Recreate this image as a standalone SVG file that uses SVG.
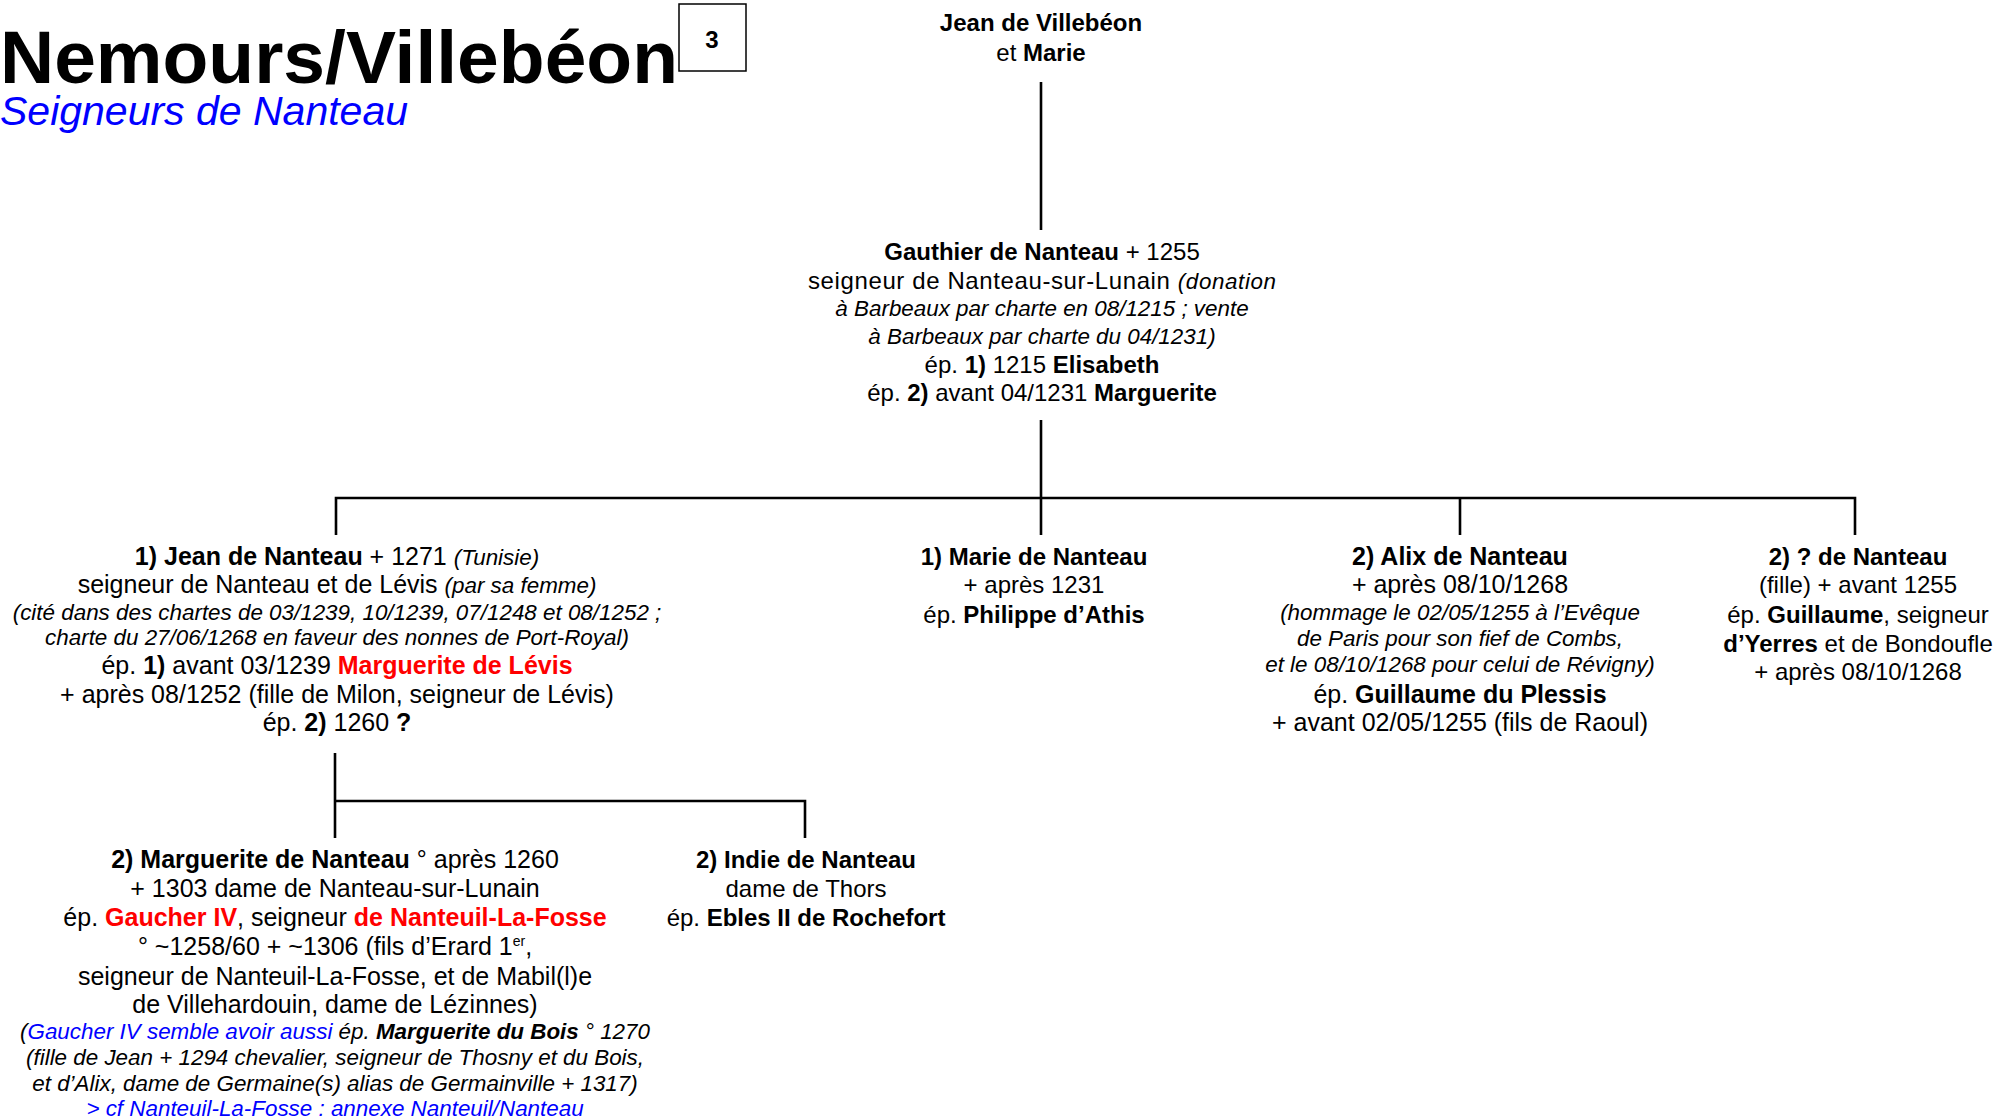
<svg xmlns="http://www.w3.org/2000/svg" width="1997" height="1119" viewBox="0 0 1997 1119">
<style>
text{font-family:"Liberation Sans",Arial,sans-serif;font-size:24px;fill:#000;text-anchor:middle}
.big text{font-size:25px}
.b{font-weight:bold}
text.i,tspan.i,.big text.i{font-style:italic;font-size:22.4px}
.r{fill:#FF0000;font-weight:bold}
.bl{fill:#0000FF}
.ln{stroke:#000;stroke-width:2.6;fill:none}
</style>
<rect width="1997" height="1119" fill="#fff"/>
<g id="title">
<text x="0" y="83" style="text-anchor:start;font-size:75px;font-weight:bold">Nemours/Villebéon</text>
<text x="0" y="125" style="text-anchor:start;font-size:41px;font-style:italic;fill:#0000FF">Seigneurs de Nanteau</text>
<rect x="679" y="4" width="67" height="67" fill="#fff" stroke="#000" stroke-width="1.5"/>
<text x="712" y="48" class="b">3</text>
</g>
<g id="connectors">
<path class="ln" d="M1041 82V230"/>
<path class="ln" d="M1041 420V535"/>
<path class="ln" d="M336 535V498H1855V535"/>
<path class="ln" d="M1460 498V535"/>
<path class="ln" d="M335 753V838"/>
<path class="ln" d="M335 801H805V838"/>
</g>
<g id="n-jean-villebeon">
<text x="1041" y="31" class="b">Jean de Villebéon</text>
<text x="1041" y="61">et <tspan class="b">Marie</tspan></text>
</g>
<g id="n-gauthier">
<text x="1042" y="260"><tspan class="b">Gauthier de Nanteau</tspan> + 1255</text>
<text x="808" y="289" style="text-anchor:start" textLength="468" lengthAdjust="spacing">seigneur de Nanteau-sur-Lunain <tspan class="i">(donation</tspan></text>
<text x="1042" y="316" class="i">à Barbeaux par charte en 08/1215 ; vente</text>
<text x="1042" y="344" class="i">à Barbeaux par charte du 04/1231)</text>
<text x="1042" y="373">ép. <tspan class="b">1)</tspan> 1215 <tspan class="b">Elisabeth</tspan></text>
<text x="1042" y="401">ép. <tspan class="b">2)</tspan> avant 04/1231 <tspan class="b">Marguerite</tspan></text>
</g>
<g id="n-jean-nanteau" class="big">
<text x="337" y="565"><tspan class="b">1) Jean de Nanteau</tspan> + 1271 <tspan class="i">(Tunisie)</tspan></text>
<text x="337" y="593">seigneur de Nanteau et de Lévis <tspan class="i">(par sa femme)</tspan></text>
<text x="337" y="620" class="i">(cité dans des chartes de 03/1239, 10/1239, 07/1248 et  08/1252 ;</text>
<text x="337" y="645" class="i">charte du 27/06/1268 en faveur des nonnes de Port-Royal)</text>
<text x="337" y="674">ép. <tspan class="b">1)</tspan> avant 03/1239 <tspan class="r">Marguerite de Lévis</tspan></text>
<text x="337" y="703">+ après 08/1252 (fille de Milon, seigneur de Lévis)</text>
<text x="337" y="731">ép. <tspan class="b">2)</tspan> 1260 <tspan class="b">?</tspan></text>
</g>
<g id="n-marie">
<text x="1034" y="565" class="b">1) Marie de Nanteau</text>
<text x="1034" y="593">+ après 1231</text>
<text x="1034" y="623">ép. <tspan class="b">Philippe d’Athis</tspan></text>
</g>
<g id="n-alix" class="big">
<text x="1460" y="565" class="b">2) Alix de Nanteau</text>
<text x="1460" y="593">+ après 08/10/1268</text>
<text x="1460" y="620" class="i">(hommage le 02/05/1255 à l’Evêque</text>
<text x="1460" y="646" class="i">de Paris pour son fief de Combs,</text>
<text x="1460" y="672" class="i">et le 08/10/1268 pour celui de Révigny)</text>
<text x="1460" y="703">ép. <tspan class="b">Guillaume du Plessis</tspan></text>
<text x="1460" y="731">+ avant 02/05/1255 (fils de Raoul)</text>
</g>
<g id="n-fille">
<text x="1858" y="565" class="b">2) ? de Nanteau</text>
<text x="1858" y="593">(fille) + avant 1255</text>
<text x="1858" y="623">ép. <tspan class="b">Guillaume</tspan>, seigneur</text>
<text x="1858" y="652"><tspan class="b">d’Yerres</tspan> et de Bondoufle</text>
<text x="1858" y="680">+ après 08/10/1268</text>
</g>
<g id="n-marguerite" class="big">
<text x="335" y="868"><tspan class="b">2) Marguerite de Nanteau</tspan> ° après 1260</text>
<text x="335" y="897">+ 1303 dame de Nanteau-sur-Lunain</text>
<text x="335" y="926">ép. <tspan class="r">Gaucher IV</tspan>, seigneur <tspan class="r">de Nanteuil-La-Fosse</tspan></text>
<text x="335" y="955">° ~1258/60 + ~1306 (fils d’Erard 1<tspan font-size="14" dy="-9">er</tspan><tspan dy="9">,</tspan></text>
<text x="335" y="985">seigneur de Nanteuil-La-Fosse, et de Mabil(l)e</text>
<text x="335" y="1013">de Villehardouin, dame de Lézinnes)</text>
<text x="335" y="1039" class="i">(<tspan class="bl">Gaucher IV semble avoir aussi</tspan> ép. <tspan class="b">Marguerite du Bois</tspan> ° 1270</text>
<text x="335" y="1065" class="i">(fille de Jean + 1294 chevalier, seigneur de Thosny et du Bois,</text>
<text x="335" y="1091" class="i">et d’Alix, dame de Germaine(s) alias de Germainville + 1317)</text>
<text x="335" y="1116" class="i bl">&gt; cf Nanteuil-La-Fosse : annexe Nanteuil/Nanteau</text>
</g>
<g id="n-indie">
<text x="806" y="868" class="b">2) Indie de Nanteau</text>
<text x="806" y="897">dame de Thors</text>
<text x="806" y="926">ép. <tspan class="b">Ebles II de Rochefort</tspan></text>
</g>
</svg>
